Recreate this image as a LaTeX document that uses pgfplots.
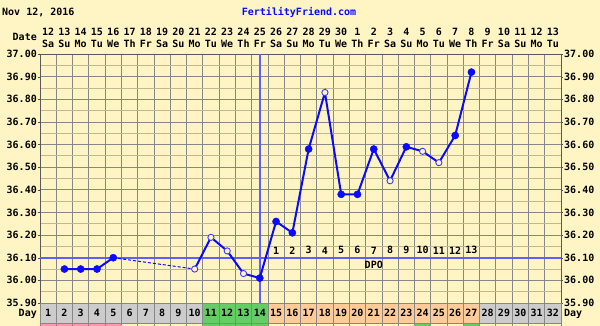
\documentclass[border=0pt]{standalone}
\usepackage{pgfplots}
\pgfplotsset{compat=1.18}
\usepackage{fontspec}
\setmainfont{DejaVu Sans Mono}
\definecolor{bgc}{RGB}{255,245,196}
\definecolor{gridc}{RGB}{135,135,135}
\definecolor{minc}{RGB}{195,183,145}
\definecolor{ffblue}{RGB}{10,10,255}
\definecolor{covc}{RGB}{95,95,255}
\definecolor{cellgray}{RGB}{204,204,204}
\definecolor{cellgreen}{RGB}{102,204,102}
\definecolor{cellorange}{RGB}{255,204,153}
\definecolor{cellpink}{RGB}{255,150,170}
\begin{document}
\begin{tikzpicture}[font=\bfseries\fontsize{10}{12}\selectfont]
\fill[bgc] (0,0) rectangle (600pt,326pt);
% vertical grid + right tick labels
\begin{axis}[at={(40pt,23pt)}, anchor=south west, scale only axis,
  width=521pt, height=249pt,
  xmin=0.5, xmax=32.5, ymin=35.9, ymax=37.0,
  xtick={0.5,1.5,2.5,3.5,4.5,5.5,6.5,7.5,8.5,9.5,10.5,11.5,12.5,13.5,14.5,15.5,16.5,17.5,18.5,19.5,20.5,21.5,22.5,23.5,24.5,25.5,26.5,27.5,28.5,29.5,30.5,31.5,32.5},
  xticklabels={}, xmajorgrids,
  major grid style={gridc, line width=0.8pt},
  ytick={35.9,36.0,36.1,36.2,36.3,36.4,36.5,36.6,36.7,36.8,36.9,37.0},
  yticklabels={35.90,36.00,36.10,36.20,36.30,36.40,36.50,36.60,36.70,36.80,36.90,37.00},
  yticklabel pos=right,
  yticklabel style={inner sep=0pt, xshift=3pt},
  major tick length=0pt,
  axis line style={draw=none}]
\end{axis}
% main axis
\begin{axis}[at={(40pt,23pt)}, anchor=south west, scale only axis,
  width=521pt, height=249pt,
  xmin=0.5, xmax=32.5, ymin=35.9, ymax=37.0, clip=false,
  xtick={1,...,32},
  xticklabels={{12\\Sa},{13\\Su},{14\\Mo},{15\\Tu},{16\\We},{17\\Th},{18\\Fr},{19\\Sa},{20\\Su},{21\\Mo},{22\\Tu},{23\\We},{24\\Th},{25\\Fr},{26\\Sa},{27\\Su},{28\\Mo},{29\\Tu},{30\\We},{1\\Th},{2\\Fr},{3\\Sa},{4\\Su},{5\\Mo},{6\\Tu},{7\\We},{8\\Th},{9\\Fr},{10\\Sa},{11\\Su},{12\\Mo},{13\\Tu}},
  xticklabel pos=upper,
  xticklabel style={align=center, inner sep=0pt, anchor=south, yshift=6pt},
  xtick style={draw=none},
  ytick={35.9,36.0,36.1,36.2,36.3,36.4,36.5,36.6,36.7,36.8,36.9,37.0},
  yticklabels={35.90,36.00,36.10,36.20,36.30,36.40,36.50,36.60,36.70,36.80,36.90,37.00},
  minor ytick={35.95,36.05,36.15,36.25,36.35,36.45,36.55,36.65,36.75,36.85,36.95},
  ymajorgrids, yminorgrids,
  major grid style={gridc, line width=0.8pt},
  minor grid style={minc, line width=0.8pt},
  ytick pos=both, ytick align=outside, major tick length=2pt, minor tick length=0pt,
  ytick style={black!70},
  yticklabel style={inner sep=0pt, xshift=-1pt},
  axis line style={black!65, line width=0.8pt}]
% coverline and ovulation line
\addplot[covc, line width=2.2pt] coordinates {(0.5,36.1) (32.5,36.1)};
\addplot[covc, line width=2.2pt] coordinates {(14,35.9) (14,37.0)};
% temperature lines
\addplot[ffblue, line width=2pt] coordinates {(2,36.05)(3,36.05)(4,36.05)(5,36.10)};
\addplot[ffblue, line width=1pt, dash pattern=on 3pt off 2pt] coordinates {(5,36.10)(10,36.05)};
\addplot[ffblue, line width=2pt] coordinates {(10,36.05)(11,36.19)(12,36.13)(13,36.03)(14,36.01)(15,36.26)(16,36.21)(17,36.58)(18,36.83)(19,36.38)(20,36.38)(21,36.58)(22,36.44)(23,36.59)(24,36.57)(25,36.52)(26,36.64)(27,36.92)};
% markers
\addplot[only marks, mark=*, mark size=3.6pt, ffblue] coordinates {(2,36.05)(3,36.05)(4,36.05)(5,36.10)(14,36.01)(15,36.26)(16,36.21)(17,36.58)(19,36.38)(20,36.38)(21,36.58)(23,36.59)(26,36.64)(27,36.92)};
\addplot[only marks, mark=*, mark size=3.1pt, draw=ffblue!80, fill=bgc, mark options={line width=0.9pt}] coordinates {(10,36.05)(11,36.19)(12,36.13)(13,36.03)(18,36.83)(22,36.44)(24,36.57)(25,36.52)};
% DPO labels
\node[anchor=south, inner sep=0pt, yshift=3.5pt] at (axis cs:15,36.1) {1};
\node[anchor=south, inner sep=0pt, yshift=3.5pt] at (axis cs:16,36.1) {2};
\node[anchor=south, inner sep=0pt, yshift=3.5pt] at (axis cs:17,36.1) {3};
\node[anchor=south, inner sep=0pt, yshift=3.5pt] at (axis cs:18,36.1) {4};
\node[anchor=south, inner sep=0pt, yshift=3.5pt] at (axis cs:19,36.1) {5};
\node[anchor=south, inner sep=0pt, yshift=3.5pt] at (axis cs:20,36.1) {6};
\node[anchor=south, inner sep=0pt, yshift=3.5pt] at (axis cs:21,36.1) {7};
\node[anchor=south, inner sep=0pt, yshift=3.5pt] at (axis cs:22,36.1) {8};
\node[anchor=south, inner sep=0pt, yshift=3.5pt] at (axis cs:23,36.1) {9};
\node[anchor=south, inner sep=0pt, yshift=3.5pt] at (axis cs:24,36.1) {10};
\node[anchor=south, inner sep=0pt, yshift=3.5pt] at (axis cs:25,36.1) {11};
\node[anchor=south, inner sep=0pt, yshift=3.5pt] at (axis cs:26,36.1) {12};
\node[anchor=south, inner sep=0pt, yshift=3.5pt] at (axis cs:27,36.1) {13};
\node[anchor=north, inner sep=0pt, yshift=-3.5pt] at (axis cs:21,36.1) {DPO};
\end{axis}
% day row
\begin{axis}[at={(40pt,0pt)}, anchor=south west, scale only axis,
  width=521pt, height=23pt,
  xmin=0.5, xmax=32.5, ymin=0, ymax=23, axis on top,
  xtick={0.5,1.5,2.5,3.5,4.5,5.5,6.5,7.5,8.5,9.5,10.5,11.5,12.5,13.5,14.5,15.5,16.5,17.5,18.5,19.5,20.5,21.5,22.5,23.5,24.5,25.5,26.5,27.5,28.5,29.5,30.5,31.5,32.5},
  xticklabels={}, xmajorgrids,
  ytick={2.5,23}, yticklabels={}, ymajorgrids,
  major grid style={gridc, line width=0.8pt},
  major tick length=0pt,
  axis line style={draw=none}]
\addplot[fill=cellgray, draw=none] coordinates {(0.5,3)(10.5,3)(10.5,23)(0.5,23)} -- cycle;
\addplot[fill=cellgreen, draw=none] coordinates {(10.5,3)(14.5,3)(14.5,23)(10.5,23)} -- cycle;
\addplot[fill=cellorange, draw=none] coordinates {(14.5,3)(27.5,3)(27.5,23)(14.5,23)} -- cycle;
\addplot[fill=cellgray, draw=none] coordinates {(27.5,3)(32.5,3)(32.5,23)(27.5,23)} -- cycle;
\addplot[fill=cellpink, draw=none] coordinates {(0.5,0)(5.5,0)(5.5,2.5)(0.5,2.5)} -- cycle;
\addplot[fill=cellgreen, draw=none] coordinates {(10.5,0)(14.5,0)(14.5,2.5)(10.5,2.5)} -- cycle;
\addplot[fill=cellgreen, draw=none] coordinates {(23.5,0)(24.5,0)(24.5,2.5)(23.5,2.5)} -- cycle;
\addplot[fill=cellgreen, draw=none] coordinates {(26.5,0)(27.5,0)(27.5,2.5)(26.5,2.5)} -- cycle;
\pgfplotsinvokeforeach{1,...,32}{\node[inner sep=0pt] at (axis cs:#1,13) {#1};}
\end{axis}
% texts
\node[anchor=west, inner sep=0pt] at (2pt,314pt) {Nov 12, 2016};
\node[anchor=center, inner sep=0pt, text=ffblue] at (299pt,314pt) {FertilityFriend.com};
\node[anchor=east, inner sep=0pt] at (37pt,289pt) {Date};
\node[anchor=east, inner sep=0pt] at (37pt,12pt) {Day};
\node[anchor=west, inner sep=0pt] at (564pt,12pt) {Day};
\pgfresetboundingbox
\useasboundingbox (0,0) rectangle (600pt,326pt);
\end{tikzpicture}
\end{document}
